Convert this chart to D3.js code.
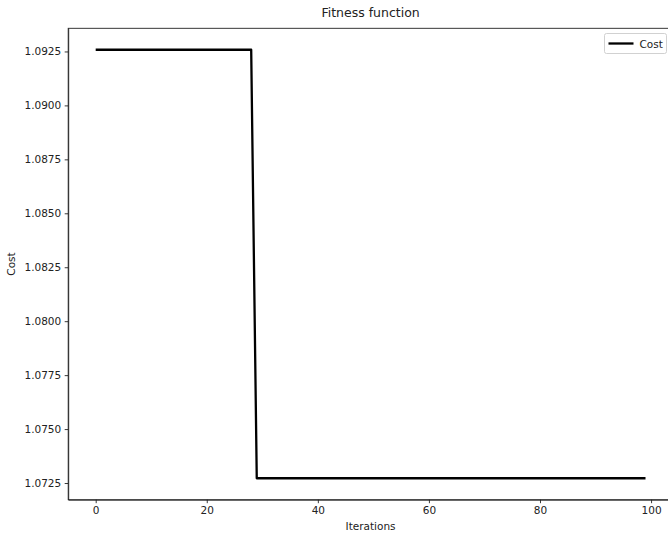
<!DOCTYPE html>
<html>
<head>
<meta charset="utf-8">
<script src="https://cdn.jsdelivr.net/npm/d3@7"></script>
<style>
  body { margin: 0; background: #fff; }
  svg { display: block; font-family: "DejaVu Sans", sans-serif; }
</style>
</head>
<body>
<div id="chart"></div>
<script>
// cost per iteration
var iterations = d3.range(0, 100);
var costs = [
  1.09258, 1.09258, 1.09258, 1.09258, 1.09258, 1.09258, 1.09258, 1.09258, 1.09258, 1.09258,
  1.09258, 1.09258, 1.09258, 1.09258, 1.09258, 1.09258, 1.09258, 1.09258, 1.09258, 1.09258,
  1.09258, 1.09258, 1.09258, 1.09258, 1.09258, 1.09258, 1.09258, 1.09258, 1.09258, 1.07272,
  1.07272, 1.07272, 1.07272, 1.07272, 1.07272, 1.07272, 1.07272, 1.07272, 1.07272, 1.07272,
  1.07272, 1.07272, 1.07272, 1.07272, 1.07272, 1.07272, 1.07272, 1.07272, 1.07272, 1.07272,
  1.07272, 1.07272, 1.07272, 1.07272, 1.07272, 1.07272, 1.07272, 1.07272, 1.07272, 1.07272,
  1.07272, 1.07272, 1.07272, 1.07272, 1.07272, 1.07272, 1.07272, 1.07272, 1.07272, 1.07272,
  1.07272, 1.07272, 1.07272, 1.07272, 1.07272, 1.07272, 1.07272, 1.07272, 1.07272, 1.07272,
  1.07272, 1.07272, 1.07272, 1.07272, 1.07272, 1.07272, 1.07272, 1.07272, 1.07272, 1.07272,
  1.07272, 1.07272, 1.07272, 1.07272, 1.07272, 1.07272, 1.07272, 1.07272, 1.07272, 1.07272
];
var xTicks = [0, 20, 40, 60, 80, 100];
var yTicks = [1.0725, 1.0750, 1.0775, 1.0800, 1.0825, 1.0850, 1.0875, 1.0900, 1.0925];
var seriesName = "Cost";

var W = 668, H = 533;
var margin = { top: 28.3, bottom: 33.3, left: 68.2, right: -5 };
var width = W - margin.left - margin.right;
var height = H - margin.top - margin.bottom;

var svg = d3.select("#chart").append("svg")
  .attr("width", W)
  .attr("height", H);

var g = svg.append("g")
  .attr("transform", "translate(" + margin.left + "," + margin.top + ")");

// matplotlib style 5% padding on the data range
var xmin = d3.min(iterations), xmax = d3.max(iterations);
var xpad = (xmax - xmin) * 0.05;
var x = d3.scaleLinear().domain([xmin - xpad, xmax + xpad]).range([0, width]);

var ymin = d3.min(costs), ymax = d3.max(costs);
var ypad = (ymax - ymin) * 0.05;
var y = d3.scaleLinear().domain([ymin - ypad, ymax + ypad]).range([height, 0]);

// axes
var xAxis = g.append("g")
  .attr("transform", "translate(0," + height + ")")
  .call(d3.axisBottom(x).tickValues(xTicks).tickSizeInner(3.5).tickSizeOuter(0)
    .tickPadding(3.5).tickFormat(d3.format("d")));

var yAxis = g.append("g")
  .call(d3.axisLeft(y).tickValues(yTicks).tickSizeInner(3.5).tickSizeOuter(0)
    .tickPadding(3.5).tickFormat(d3.format(".4f")));

[xAxis, yAxis].forEach(function (a) {
  a.selectAll("text")
    .attr("fill", "#222")
    .style("font-size", "10.5px")
    .style("font-family", "'DejaVu Sans', sans-serif");
  a.selectAll("line").attr("stroke", "#222").attr("stroke-width", 0.9);
  a.select(".domain").attr("stroke", "#222").attr("stroke-width", 0.9);
});

// top and right spines
g.append("rect")
  .attr("x", 0).attr("y", 0)
  .attr("width", width).attr("height", height)
  .attr("fill", "none")
  .attr("stroke", "#222")
  .attr("stroke-width", 0.9);

// the cost line
var line = d3.line()
  .x(function (d, i) { return x(iterations[i]); })
  .y(function (d) { return y(d); });

g.append("path")
  .datum(costs)
  .attr("d", line)
  .attr("fill", "none")
  .attr("stroke", "#000")
  .attr("stroke-width", 2.3)
  .attr("stroke-linejoin", "round");

// title and labels
svg.append("text")
  .attr("x", margin.left + width / 2)
  .attr("y", 17)
  .attr("text-anchor", "middle")
  .style("font-size", "12.5px")
  .attr("fill", "#222")
  .text("Fitness function");

svg.append("text")
  .attr("x", margin.left + width / 2)
  .attr("y", 530)
  .attr("text-anchor", "middle")
  .style("font-size", "10.5px")
  .attr("fill", "#222")
  .text("Iterations");

svg.append("text")
  .attr("transform", "translate(15," + (margin.top + height / 2) + ") rotate(-90)")
  .attr("text-anchor", "middle")
  .style("font-size", "10.5px")
  .attr("fill", "#222")
  .text("Cost");

// legend
var legend = svg.append("g").attr("transform", "translate(604.5,33.5)");
legend.append("rect")
  .attr("width", 62).attr("height", 20)
  .attr("rx", 2)
  .attr("fill", "#fff")
  .attr("stroke", "#ccc")
  .attr("stroke-width", 0.9);
legend.append("line")
  .attr("x1", 4).attr("x2", 29)
  .attr("y1", 10).attr("y2", 10)
  .attr("stroke", "#000")
  .attr("stroke-width", 2.3);
legend.append("text")
  .attr("x", 35).attr("y", 14)
  .style("font-size", "10.5px")
  .attr("fill", "#222")
  .text(seriesName);
</script>
</body>
</html>
